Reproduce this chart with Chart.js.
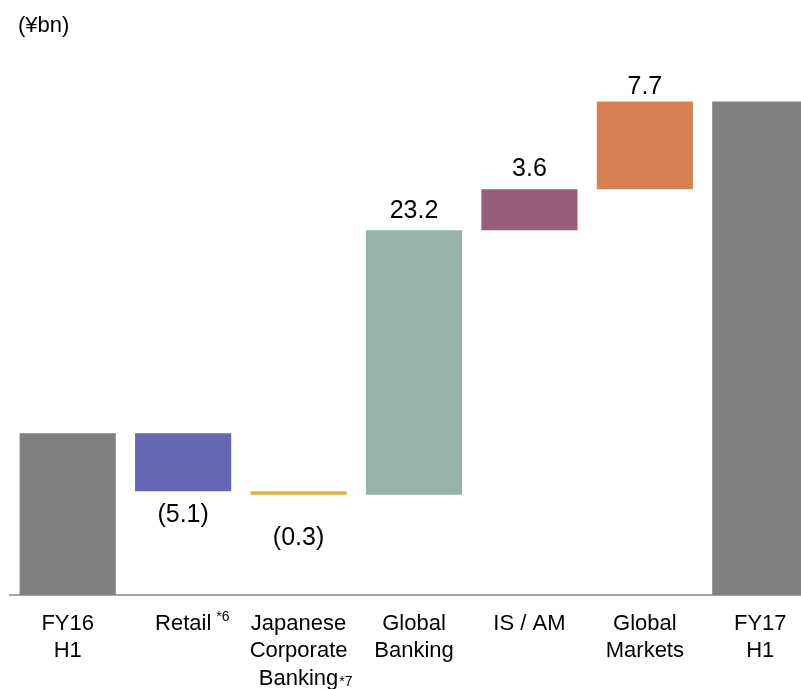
<!DOCTYPE html>
<html>
<head>
<meta charset="utf-8">
<script src="https://cdn.jsdelivr.net/npm/chart.js@4/dist/chart.umd.min.js"></script>
<style>
  html, body { margin: 0; padding: 0; background: #fff; overflow: hidden; }
  #wrap { position: absolute; left: 0; top: 0; width: 820px; height: 689px; }
</style>
</head>
<body>
<div id="wrap"><canvas id="chart"></canvas></div>
<script>
const categories = [
  ['FY16', 'H1'],
  'Retail',
  ['Japanese', 'Corporate', 'Banking'],
  ['Global', 'Banking'],
  'IS / AM',
  ['Global', 'Markets'],
  ['FY17', 'H1']
];

const startValue = 14.2;   // FY16 H1 (no label in source)
const endValue = 43.3;     // FY17 H1 (no label in source)
const changes = [-5.1, -0.3, 23.2, 3.6, 7.7];
const footnotes = ['', '*6', '*7', '', '', '', ''];

const barColors = [
  '#808080',
  '#6567b5',
  '#deb440',
  '#97b3a7',
  '#985f7d',
  '#d68254',
  '#808080'
];

// build floating bars for the waterfall
const ranges = [[0, startValue]];
let running = startValue;
changes.forEach(c => {
  ranges.push([running, running + c]);
  running += c;
});
ranges.push([0, endValue]);

const labelText = ['', ...changes.map(c => c < 0 ? '(' + Math.abs(c).toFixed(1) + ')' : c.toFixed(1)), ''];

// distance of each value label from the bar edge
const labelGap = [0, 24, 43, 19, 20, 14, 0];

const FONT = "'Liberation Sans', Arial, sans-serif";

const waterfallLabels = {
  id: 'waterfallLabels',
  afterDatasetsDraw(chart) {
    const ctx = chart.ctx;
    const meta = chart.getDatasetMeta(0);
    ctx.save();
    ctx.fillStyle = '#000';
    ctx.font = '25px ' + FONT;
    ctx.textAlign = 'center';
    ctx.textBaseline = 'middle';
    meta.data.forEach((bar, i) => {
      if (!labelText[i]) return;
      const top = Math.min(bar.y, bar.base);
      const bottom = Math.max(bar.y, bar.base);
      const y = changes[i - 1] < 0 ? bottom + labelGap[i] : top - labelGap[i];
      ctx.fillText(labelText[i], bar.x, y);
    });
    ctx.restore();
  },
  afterDraw(chart) {
    const ctx = chart.ctx;
    const xs = chart.scales.x;
    ctx.save();
    // unit label
    ctx.fillStyle = '#000';
    ctx.font = '22px ' + FONT;
    ctx.textAlign = 'left';
    ctx.textBaseline = 'middle';
    ctx.fillText('(¥bn)', 18, 26);

    // footnote marks next to tick labels
    footnotes.forEach((note, i) => {
      if (!note) return;
      const lines = Array.isArray(categories[i]) ? categories[i] : [categories[i]];
      const last = lines[lines.length - 1];
      ctx.font = '22px ' + FONT;
      const w = ctx.measureText(last).width;
      const x = xs.getPixelForTick(i) + w / 2 + (i === 1 ? 5 : 1);
      const y = i === 1 ? 617 : 682;
      ctx.font = '14px ' + FONT;
      ctx.fillText(note, x, y);
    });
    ctx.restore();
  }
};

new Chart(document.getElementById('chart'), {
  type: 'bar',
  data: {
    labels: categories,
    datasets: [{
      data: ranges,
      backgroundColor: barColors,
      borderWidth: 0,
      barPercentage: 1,
      categoryPercentage: 0.833
    }]
  },
  options: {
    responsive: true,
    maintainAspectRatio: false,
    animation: false,
    layout: { padding: { left: 10, right: 2, top: 48, bottom: 0 } },
    plugins: {
      legend: { display: false },
      tooltip: { enabled: false },
      title: { display: false }
    },
    scales: {
      x: {
        grid: { display: false, drawTicks: false },
        border: { display: true, color: '#a6a6a6', width: 2 },
        ticks: {
          color: '#000',
          padding: 15,
          maxRotation: 0,
          autoSkip: false,
          font: { family: FONT, size: 22, lineHeight: 1.25 }
        },
        afterFit(scale) { scale.height = 94; }
      },
      y: {
        display: false,
        min: 0,
        max: 48
      }
    }
  },
  plugins: [waterfallLabels]
});
</script>
</body>
</html>
